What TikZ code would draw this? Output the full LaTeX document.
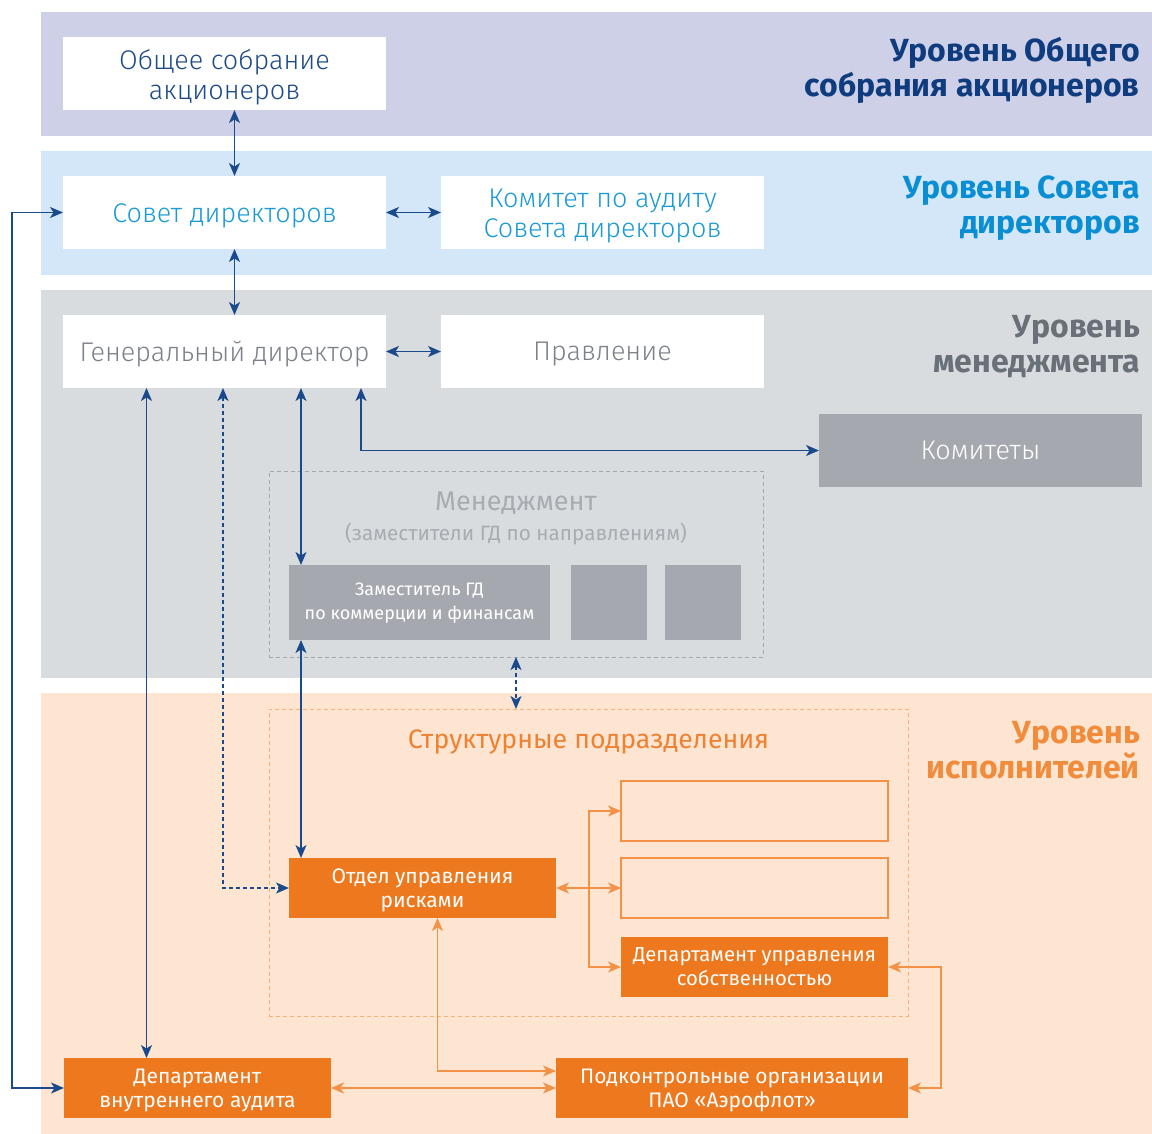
\documentclass[tikz,border=0pt]{standalone}
\usepackage{fontspec}
\setmainfont{Fira Sans}
\newfontfamily\firalight{Fira Sans Light}
\usetikzlibrary{arrows.meta}
\definecolor{bandA}{HTML}{CED0E7}
\definecolor{bandB}{HTML}{D3E7F8}
\definecolor{bandC}{HTML}{D9DCDF}
\definecolor{bandD}{HTML}{FDE5D2}
\definecolor{navy}{HTML}{0F3C7E}
\definecolor{arblue}{HTML}{1A4A8A}
\definecolor{osatext}{HTML}{1E4A87}
\definecolor{sdtext}{HTML}{1B9AD7}
\definecolor{sdtitle}{HTML}{0A8ED3}
\definecolor{mgtitle}{HTML}{6A7078}
\definecolor{gdtext}{HTML}{7D828A}
\definecolor{mgtext}{HTML}{A8ACB2}
\definecolor{mgdash}{HTML}{A3A7AD}
\definecolor{boxgrey}{HTML}{A5A8AF}
\definecolor{stdash}{HTML}{F7B07A}
\definecolor{ortitle}{HTML}{F08C3C}
\definecolor{ortext}{HTML}{EF8232}
\definecolor{orfill}{HTML}{EE781E}
\definecolor{orline}{HTML}{F39247}
\newcommand\fsz[2]{\fontsize{#1}{#2}\selectfont}
\begin{document}
\begin{tikzpicture}[x=1pt,y=-1pt,
  box/.style={rectangle,inner sep=0pt,outer sep=0pt,align=center},
  whitebox/.style={box,fill=white,minimum width=323pt,minimum height=73pt},
  greybox/.style={box,fill=boxgrey,text=white},
  orangebox/.style={box,fill=orfill,text=white},
  outbox/.style={box,draw=orline,line width=1.5pt},
  dashbox/.style={box,draw,line width=1pt,dash pattern=on 4pt off 3pt},
  txt/.style={align=center,inner sep=0pt},
  barrow/.style={draw=arblue,line width=1.5pt,{Stealth[length=13pt,width=11pt,inset=3.5pt]}-{Stealth[length=13pt,width=11pt,inset=3.5pt]}},
  bdash/.style={barrow,dash pattern=on 4pt off 3pt},
  oarrow/.style={draw=orline,line width=1.5pt,{Stealth[length=13pt,width=11pt,inset=3.5pt]}-{Stealth[length=13pt,width=11pt,inset=3.5pt]}},
  title/.style={anchor=east,align=right,inner sep=0pt,font=\bfseries\fsz{32}{35}},
  lighttext/.style={txt,font=\firalight\fsz{27}{30}},
  ortxt/.style={txt,text=white,font=\fsz{21}{24}}
]
\useasboundingbox (0,0) rectangle (1152,1134);
% bands
\fill[bandA] (41,12) rectangle (1152,136);
\fill[bandB] (41,151) rectangle (1152,275);
\fill[bandC] (41,290) rectangle (1152,678);
\fill[bandD] (41,693) rectangle (1152,1134);
% titles
\node[title,text=navy] (t1) at (1140,70) {Уровень Общего\\собрания акционеров};
\node[title,text=sdtitle] (t2) at (1140,208.5) {Уровень Совета\\директоров};
\node[title,text=mgtitle] (t3) at (1140,346.5) {Уровень\\менеджмента};
\node[title,text=ortitle] (t4) at (1140,750.5) {Уровень\\исполнителей};
% dashed containers
\node[dashbox,draw=mgdash,minimum width=494pt,minimum height=186pt] (mg) at (516,564) {};
\node[text=mgtext,font=\fsz{27}{30}] (mgt) at (516,503) {Менеджмент};
\node[text=mgtext,font=\fsz{20.7}{24}] (mgs) at (516,533.5) {(заместители ГД по направлениям)};
\node[dashbox,draw=stdash,minimum width=639pt,minimum height=307pt] (st) at (588.5,862.5) {};
\node[text=ortext,font=\fsz{26.7}{29}] (stt) at (588.5,742) {Структурные подразделения};
% boxes
\node[whitebox] (osa) at (224.5,73.5) {};
\node[lighttext,text=osatext] (osaT) at ([yshift=-3.5pt]osa.center) {Общее собрание\\акционеров};
\node[whitebox] (sd) at (224.5,212.5) {};
\node[lighttext,text=sdtext] (sdT) at ([yshift=-3.5pt]sd.center) {Совет директоров};
\node[whitebox] (ka) at (602.5,212.5) {};
\node[lighttext,text=sdtext] (kaT) at ([yshift=-4pt]ka.center) {Комитет по аудиту\\Совета директоров};
\node[whitebox] (gd) at (224.5,351.5) {};
\node[lighttext,text=gdtext] (gdT) at ([yshift=-2.5pt]gd.center) {Генеральный директор};
\node[whitebox] (pr) at (602.5,351.5) {};
\node[lighttext,text=gdtext] (prT) at ([yshift=-2.5pt]pr.center) {Правление};
\node[greybox,minimum width=323pt,minimum height=73pt,lighttext] (kom) at (980.5,450.5) {Комитеты};
\node[greybox,minimum width=261pt,minimum height=75pt] (zam) at (419.5,602.5) {};
\node[txt,text=white,font=\fsz{18}{24}] (zamT) at ([yshift=-1pt]zam.center) {Заместитель ГД\\по коммерции и финансам};
\node[greybox,minimum width=76pt,minimum height=75pt] (g2) at (609,602.5) {};
\node[greybox,minimum width=76pt,minimum height=75pt] (g3) at (703,602.5) {};
\node[orangebox,minimum width=267pt,minimum height=60pt] (otd) at (422.5,888) {};
\node[ortxt] (otdT) at ([yshift=-2pt]otd.center) {Отдел управления\\рисками};
\node[outbox,minimum width=267pt,minimum height=60pt] (e1) at (754.5,811) {};
\node[outbox,minimum width=267pt,minimum height=60pt] (e2) at (754.5,888) {};
\node[orangebox,minimum width=267pt,minimum height=60pt] (dus) at (754.5,967) {};
\node[ortxt,font=\fsz{20.3}{24}] (dusT) at (dus.center) {Департамент управления\\собственностью};
\node[orangebox,minimum width=352pt,minimum height=60pt] (pod) at (732,1088) {};
\node[ortxt] (podT) at ([yshift=-2pt]pod.center) {Подконтрольные организации\\ПАО «Аэрофлот»};
\node[orangebox,minimum width=267pt,minimum height=60pt] (dva) at (197.5,1088) {};
\node[ortxt] (dvaT) at ([yshift=-2pt]dva.center) {Департамент\\внутреннего аудита};
% helper coordinates
\coordinate (c12) at (12,0);
\coordinate (c146) at (146.5,0);
\coordinate (c223) at (223,0);
\coordinate (c234) at (234.5,0);
\coordinate (c301) at (301,0);
\coordinate (c361) at (361,0);
\coordinate (c437) at (437.5,0);
\coordinate (c589) at (589,0);
\coordinate (c941) at (941,0);
\coordinate (r1071) at (0,1071);
% blue connectors
\draw[barrow] (osa.south -| c234) -- (sd.north -| c234);
\draw[barrow] (sd.south -| c234) -- (gd.north -| c234);
\draw[barrow] (sd.east) -- (ka.west);
\draw[barrow] (gd.east) -- (pr.west);
\draw[barrow] (gd.south -| c361) |- (kom.west);
\draw[barrow] (gd.south -| c301) -- (zam.north -| c301);
\draw[barrow] (zam.south -| c301) -- (otd.north -| c301);
\draw[barrow] (gd.south -| c146) -- (dva.north -| c146);
\draw[bdash] (gd.south -| c223) |- (otd.west);
\draw[bdash] (mg.south) -- (mg.south |- st.north);
\draw[barrow] (sd.west) -- (sd.west -| c12) |- (dva.west);
% orange connectors
\draw[oarrow] (otd.east) -- (e2.west);
\draw[oarrow] (e1.west) -| (c589 |- dus.west) -- (dus.west);
\draw[oarrow] (otd.south -| c437) |- (pod.west |- r1071);
\draw[oarrow] (dva.east) -- (pod.west);
\draw[oarrow] (dus.east) -- (dus.east -| c941) |- (pod.east);
\end{tikzpicture}
\end{document}
